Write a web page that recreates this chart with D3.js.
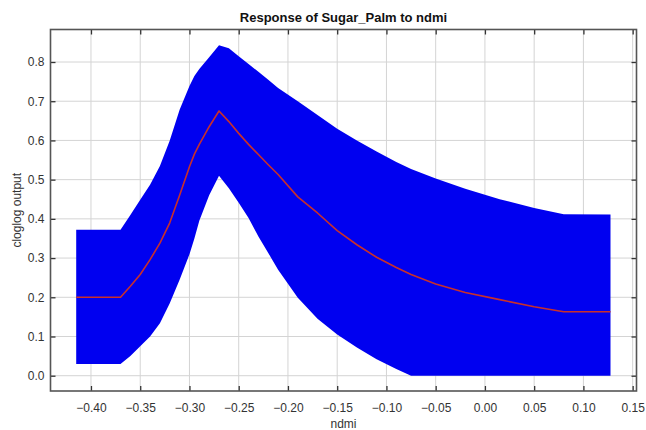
<!DOCTYPE html>
<html>
<head>
<meta charset="utf-8">
<script src="https://cdn.jsdelivr.net/npm/d3@7"></script>
<style>
  body { margin: 0; background: #fff; }
  svg { font-family: "Liberation Sans", Arial, sans-serif; }
</style>
</head>
<body>
<script>
// ndmi sample points
var ndmi = [-0.415, -0.37, -0.36, -0.35, -0.34, -0.33, -0.32, -0.31, -0.30, -0.295, -0.29, -0.28,
  -0.27, -0.26, -0.25, -0.24, -0.23, -0.22, -0.21, -0.19, -0.17, -0.15, -0.13, -0.11, -0.09,
  -0.075, -0.05, -0.02, 0.015, 0.05, 0.08, 0.1275];
var meanVals = [0.20, 0.20, 0.228, 0.258, 0.296, 0.338, 0.39, 0.46, 0.533, 0.565, 0.59, 0.635,
  0.675, 0.648, 0.618, 0.59, 0.564, 0.538, 0.513, 0.456, 0.415, 0.37, 0.334, 0.302, 0.276,
  0.258, 0.234, 0.212, 0.194, 0.176, 0.163, 0.163];
var upperVals = [0.372, 0.372, 0.41, 0.449, 0.487, 0.535, 0.60, 0.678, 0.739, 0.764, 0.782, 0.812,
  0.843, 0.835, 0.815, 0.795, 0.775, 0.755, 0.734, 0.70, 0.665, 0.63, 0.60, 0.572, 0.545,
  0.527, 0.503, 0.477, 0.45, 0.428, 0.412, 0.411];
var lowerVals = [0.03, 0.03, 0.05, 0.075, 0.10, 0.134, 0.185, 0.245, 0.31, 0.35, 0.395, 0.46,
  0.51, 0.478, 0.441, 0.402, 0.355, 0.313, 0.27, 0.199, 0.145, 0.105, 0.072, 0.042, 0.017,
  0.0, 0.0, 0.0, 0.0, 0.0, 0.0, 0.0];
var xTicks = [-0.40, -0.35, -0.30, -0.25, -0.20, -0.15, -0.10, -0.05, 0.00, 0.05, 0.10, 0.15];
var yTicks = [0.0, 0.1, 0.2, 0.3, 0.4, 0.5, 0.6, 0.7, 0.8];

var W = 646, H = 430;
var margin = {top: 29.5, right: 9.5, bottom: 39, left: 50.5};
var width = W - margin.left - margin.right,
    height = H - margin.top - margin.bottom;

var x = d3.scaleLinear().domain([-0.4411, 0.1539]).range([0, width]);
var y = d3.scaleLinear().domain([-0.039, 0.8829]).range([height, 0]);

var svg = d3.select('body').append('svg')
  .attr('width', W).attr('height', H);

var main = svg.append('g')
  .attr('transform', 'translate(' + margin.left + ',' + margin.top + ')');

// grid
main.append('g').selectAll('line').data(xTicks).enter().append('line')
  .attr('x1', function(d) { return x(d); }).attr('x2', function(d) { return x(d); })
  .attr('y1', 0).attr('y2', height)
  .attr('stroke', '#d4d4d4').attr('stroke-width', 1);
main.append('g').selectAll('line').data(yTicks).enter().append('line')
  .attr('y1', function(d) { return y(d); }).attr('y2', function(d) { return y(d); })
  .attr('x1', 0).attr('x2', width)
  .attr('stroke', '#d4d4d4').attr('stroke-width', 1);

var pts = ndmi.map(function(v, i) {
  return {x: v, m: meanVals[i], hi: upperVals[i], lo: lowerVals[i]};
});

var band = d3.area()
  .x(function(d) { return x(d.x); })
  .y0(function(d) { return y(d.lo); })
  .y1(function(d) { return y(d.hi); });

main.append('path').datum(pts)
  .attr('d', band)
  .attr('fill', '#0000f0');

var line = d3.line()
  .x(function(d) { return x(d.x); })
  .y(function(d) { return y(d.m); });

main.append('path').datum(pts)
  .attr('d', line)
  .attr('fill', 'none')
  .attr('stroke', '#c8302a')
  .attr('stroke-width', 1.6)
  .attr('stroke-linejoin', 'round');

// axes, ticks pointing inward
var xAxis = d3.axisBottom(x).tickValues(xTicks).tickSizeInner(-5).tickSizeOuter(0)
  .tickPadding(12).tickFormat(d3.format('.2f'));
main.append('g').attr('transform', 'translate(0,' + height + ')').call(xAxis);

var yAxis = d3.axisLeft(y).tickValues(yTicks).tickSizeInner(-5).tickSizeOuter(0)
  .tickPadding(6).tickFormat(d3.format('.1f'));
main.append('g').call(yAxis);

main.append('g').call(d3.axisTop(x).tickValues(xTicks).tickSizeInner(-5).tickSizeOuter(0).tickFormat(''));
main.append('g').attr('transform', 'translate(' + width + ',0)')
  .call(d3.axisRight(y).tickValues(yTicks).tickSizeInner(-5).tickSizeOuter(0).tickFormat(''));

svg.selectAll('.domain').remove();
svg.selectAll('.tick line').attr('stroke', '#333').attr('stroke-width', 1.3);
svg.selectAll('.tick text').attr('font-size', 12).attr('fill', '#333');

// frame
main.append('rect')
  .attr('x', 0).attr('y', 0).attr('width', width).attr('height', height)
  .attr('fill', 'none').attr('stroke', '#555').attr('stroke-width', 1.6);

svg.append('text').text('Response of Sugar_Palm to ndmi')
  .attr('x', margin.left + width / 2).attr('y', 22)
  .attr('text-anchor', 'middle').attr('font-size', 13).attr('font-weight', 'bold').attr('fill', '#111');

svg.append('text').text('ndmi')
  .attr('x', margin.left + width / 2).attr('y', 428)
  .attr('text-anchor', 'middle').attr('font-size', 12).attr('fill', '#333');

svg.append('text').text('cloglog output')
  .attr('transform', 'translate(21,' + (margin.top + height / 2) + ') rotate(-90)')
  .attr('text-anchor', 'middle').attr('font-size', 12).attr('fill', '#333');
</script>
</body>
</html>
